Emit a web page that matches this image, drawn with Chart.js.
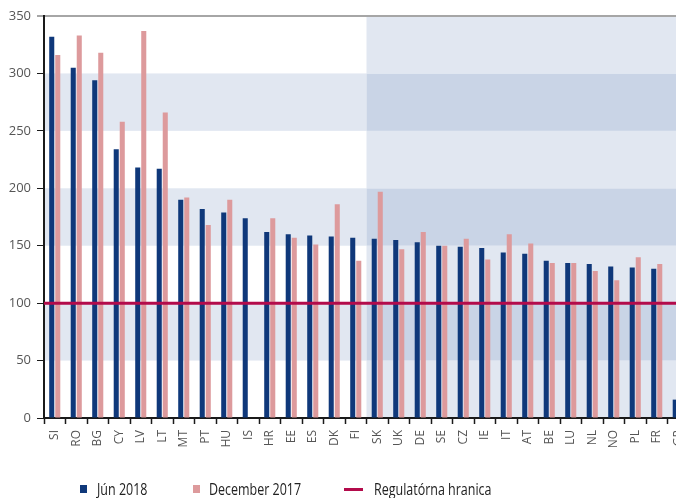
<!DOCTYPE html>
<html>
<head>
<meta charset="utf-8">
<script src="https://cdn.jsdelivr.net/npm/chart.js@4.4.0/dist/chart.umd.min.js"></script>
<style>
  html, body { margin: 0; padding: 0; background: #fff; }
  #wrap { position: relative; width: 676px; height: 498px; overflow: hidden; }
  #chart { position: absolute; left: 0; top: 0; }
  .lg { position: absolute; top: 478px; font-family: "Open Sans", sans-serif; font-size: 16px; color: #222;
        white-space: nowrap; transform: scaleX(0.78); transform-origin: left center; }
  .sw { position: absolute; }
</style>
</head>
<body>
<div id="wrap">
  <canvas id="chart" width="692" height="498"></canvas>
  <div class="sw" style="left:80px;top:485px;width:7px;height:8px;background:#0f387a"></div>
  <div class="lg" style="left:97px">Jún 2018</div>
  <div class="sw" style="left:193px;top:485px;width:7px;height:8px;background:#dd9a9c"></div>
  <div class="lg" style="left:209px">December 2017</div>
  <div class="sw" style="left:344px;top:488px;width:19px;height:3px;background:#b30b4b"></div>
  <div class="lg" style="left:374px">Regulatórna hranica</div>
</div>
<script>
let countries = ['SI','RO','BG','CY','LV','LT','MT','PT','HU','IS','HR','EE','ES','DK','FI',
                 'SK','UK','DE','SE','CZ','IE','IT','AT','BE','LU','NL','NO','PL','FR','GR'];
let jun2018 = [332,305,294,234,218,217,190,182,179,174,162,160,159,158,157,
               156,155,153,150,149,148,144,143,137,135,134,132,131,130,16];
let dec2017 = [316,333,318,258,337,266,192,168,190,null,174,157,151,186,137,
               197,147,162,150,156,138,160,152,135,135,128,120,140,134,null];
let yTicks = [0,50,100,150,200,250,300,350];
let limit = 100;
let shadeFrom = 'SK';

const navy = '#0f387a';
const pink = '#dd9a9c';
const red = '#b30b4b';
const bandLight = '#e1e7f1';
const bandDark = '#c9d4e6';

// stripes behind the plot, darker from shadeFrom to the right
const bands = {
  id: 'bands',
  beforeDraw(chart) {
    const c = chart.ctx, a = chart.chartArea;
    const x = chart.scales.x, y = chart.scales.y;
    const idx = countries.indexOf(shadeFrom);
    const split = (x.getPixelForValue(idx - 1) + x.getPixelForValue(idx)) / 2;
    c.save();
    for (let i = 0; i < yTicks.length - 1; i++) {
      const top = y.getPixelForValue(yTicks[i + 1]);
      const bot = y.getPixelForValue(yTicks[i]);
      const odd = i % 2 == 1;
      if (odd) {
        c.fillStyle = bandLight;
        c.fillRect(a.left, top, split - a.left, bot - top);
      }
      c.fillStyle = odd ? bandDark : bandLight;
      c.fillRect(split, top, a.right - split, bot - top);
    }
    c.restore();
  }
};

const limitLine = {
  id: 'limitLine',
  afterDatasetsDraw(chart) {
    const c = chart.ctx, a = chart.chartArea;
    const py = chart.scales.y.getPixelForValue(limit);
    c.save();
    c.strokeStyle = red;
    c.lineWidth = 3;
    c.beginPath();
    c.moveTo(a.left, py);
    c.lineTo(a.right, py);
    c.stroke();
    c.restore();
  }
};

new Chart(document.getElementById('chart'), {
  type: 'bar',
  data: {
    labels: countries,
    datasets: [
      { label: 'Jún 2018', data: jun2018, backgroundColor: navy, borderWidth: 0,
        categoryPercentage: 0.56, barPercentage: 0.84 },
      { label: 'December 2017', data: dec2017, backgroundColor: pink, borderWidth: 0,
        categoryPercentage: 0.56, barPercentage: 0.84 }
    ]
  },
  options: {
    responsive: false,
    animation: false,
    layout: { padding: { top: 16, right: 3, left: 0, bottom: 0 } },
    plugins: { legend: { display: false }, tooltip: { enabled: false } },
    scales: {
      x: {
        afterFit(s) { s.height = 80; s.paddingLeft = 0; s.paddingRight = 0; },
        border: { color: '#1a1a1a', width: 2 },
        grid: { drawOnChartArea: false, tickLength: 6, tickColor: '#1a1a1a', tickWidth: 1.5 },
        ticks: { minRotation: 90, maxRotation: 90, padding: 6, color: '#555',
                 font: { family: 'Open Sans', size: 12 } }
      },
      y: {
        min: 0, max: 350,
        afterFit(s) { s.width = 44; },
        afterBuildTicks(s) { s.ticks = yTicks.map(v => ({ value: v })); },
        border: { color: '#1a1a1a', width: 2 },
        grid: {
          color: ctx => ctx.tick && ctx.tick.value == 350 ? '#a6a6a6' : 'rgba(0,0,0,0)',
          lineWidth: ctx => ctx.tick && ctx.tick.value == 350 ? 2 : 1,
          tickColor: ctx => ctx.tick && ctx.tick.value == 350 ? '#a6a6a6' : '#1a1a1a',
          tickLength: 7
        },
        ticks: { padding: 6, color: '#555', font: { family: 'Open Sans', size: 13 } }
      }
    }
  },
  plugins: [bands, limitLine]
});
</script>
</body>
</html>
